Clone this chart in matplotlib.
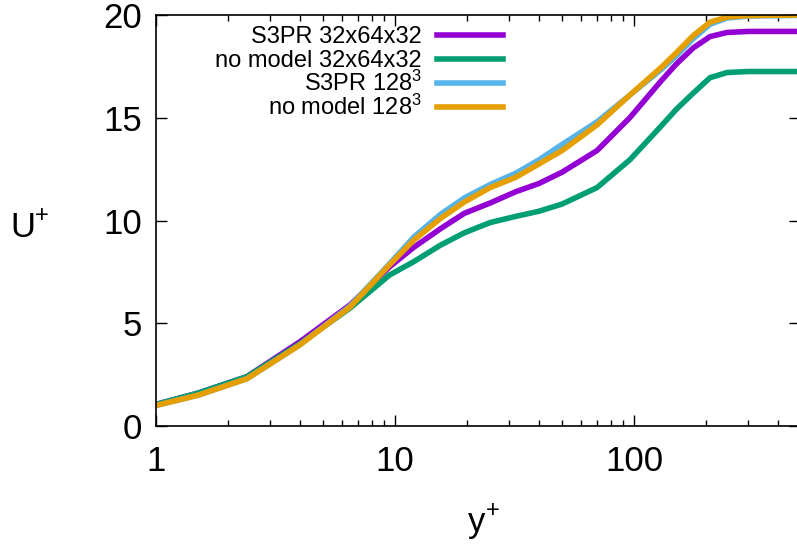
import matplotlib
matplotlib.use("Agg")
import matplotlib.pyplot as plt
from matplotlib.lines import Line2D
from matplotlib.ticker import LogLocator, NullFormatter, FixedLocator

plt.rcParams["font.family"] = ["Liberation Sans", "DejaVu Sans"]
plt.rcParams["mathtext.fontset"] = "custom"
plt.rcParams["mathtext.rm"] = "Liberation Sans"
plt.rcParams["mathtext.it"] = "Liberation Sans"
plt.rcParams["mathtext.default"] = "regular"

# wall distance in viscous units, shared by all runs
yplus = [1, 1.5, 2.4, 4.0, 6.5, 9.5, 12, 15.5, 19.5, 25, 32, 40, 50, 70,
         96, 130, 150, 177, 208, 245, 300, 490]

# mean velocity profiles U+
s3pr_coarse = [1.05, 1.6, 2.4, 4.1, 5.9, 7.75, 8.7, 9.6, 10.35, 10.85, 11.4,
               11.8, 12.35, 13.4, 15.0, 16.8, 17.6, 18.4, 18.95, 19.15, 19.2,
               19.2]
nomodel_coarse = [1.05, 1.6, 2.4, 4.0, 5.75, 7.35, 8.0, 8.8, 9.4, 9.9, 10.2,
                  10.45, 10.8, 11.6, 12.95, 14.6, 15.4, 16.2, 16.95, 17.2,
                  17.25, 17.25]
s3pr_fine = [1.0, 1.5, 2.3, 3.95, 5.85, 7.9, 9.2, 10.3, 11.1, 11.75, 12.3,
             12.95, 13.7, 14.8, 16.1, 17.35, 18.0, 18.85, 19.55, 19.85, 19.95,
             19.98]
nomodel_fine = [1.0, 1.5, 2.3, 3.95, 5.8, 7.85, 9.05, 10.1, 10.9, 11.6, 12.1,
                12.75, 13.4, 14.65, 16.1, 17.45, 18.15, 19.0, 19.65, 19.9,
                19.97, 20.0]

labels = ["S3PR 32x64x32", "no model 32x64x32", "S3PR 128$^3$",
          "no model 128$^3$"]
colors = ["#9400d3", "#009e73", "#56b4e9", "#e69f00"]
profiles = [s3pr_coarse, nomodel_coarse, s3pr_fine, nomodel_fine]

W, H = 797, 547
fig = plt.figure(figsize=(W / 100, H / 100), dpi=100)
ax = fig.add_axes([156 / W, (H - 426) / H, (800 - 156) / W, (426 - 15) / H])

for vals, col in zip(profiles, colors):
    ax.plot(yplus, vals, color=col, lw=4.0)

ax.set_xscale("log")
ax.set_xlim(1, 10 ** ((800 - 156) / 239))
ax.set_ylim(0, 20)
ax.xaxis.set_major_locator(FixedLocator([1, 10, 100]))
ax.set_xticklabels(["1", "10", "100"])
ax.xaxis.set_minor_locator(LogLocator(base=10, subs=range(2, 10)))
ax.xaxis.set_minor_formatter(NullFormatter())
ax.set_yticks([0, 5, 10, 15, 20])

ax.tick_params(which="both", direction="in", top=True, right=True,
               labelsize=25, width=1)
ax.tick_params(which="major", length=8, pad=14)
ax.tick_params(which="minor", length=4)
ax.tick_params(axis="y", pad=10)
for sp in ax.spines.values():
    sp.set_linewidth(1.2)

# axis titles, gnuplot-like superscripts
def px(x, y):
    return x / W, 1 - y / H

fig.text(*px(10, 237), "U", fontsize=25, ha="left", va="baseline")
fig.text(*px(35, 222), "+", fontsize=17, ha="left", va="baseline")
fig.text(*px(485, 532), "y", fontsize=25, ha="right", va="baseline")
fig.text(*px(486, 517), "+", fontsize=17, ha="left", va="baseline")

# key: right-aligned text with line sample to its right
for i, (lab, col) in enumerate(zip(labels, colors)):
    yrow = 35 + 24 * i
    fig.text(*px(422, yrow + 8), lab, fontsize=17, ha="right", va="baseline")
    x0, y0 = px(437, yrow)
    x1, _ = px(503, yrow)
    fig.add_artist(Line2D([x0, x1], [y0, y0], color=col, lw=4.0,
                          transform=fig.transFigure))

fig.savefig("out.png", dpi=100)
